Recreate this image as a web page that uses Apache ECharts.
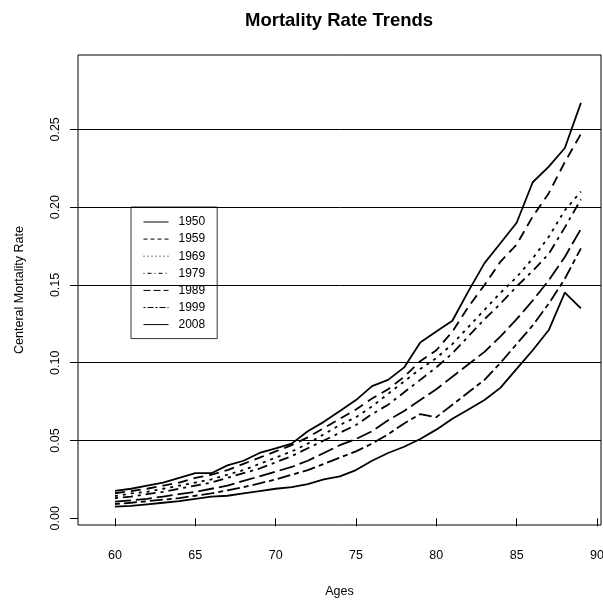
<!DOCTYPE html>
<html><head><meta charset="utf-8">
<script src="https://cdn.jsdelivr.net/npm/echarts@6/dist/echarts.min.js"></script>
<style>html,body{margin:0;padding:0;background:#fff}#c{width:603px;height:600px}</style>
</head><body><div id="c"></div>
<script>
// ---- data ----
const ages = [60,61,62,63,64,65,66,67,68,69,70,71,72,73,74,75,76,77,78,79,80,81,82,83,84,85,86,87,88,89];
const years = ['1950','1959','1969','1979','1989','1999','2008'];
const rate1950 = [0.0177,0.019,0.021,0.023,0.026,0.029,0.029,0.034,0.037,0.042,0.045,0.048,0.056,0.062,0.069,0.076,0.085,0.089,0.097,0.113,0.120,0.127,0.146,0.164,0.177,0.190,0.216,0.226,0.238,0.267];
const rate1959 = [0.0161,0.0175,0.019,0.021,0.023,0.026,0.028,0.031,0.035,0.039,0.043,0.047,0.052,0.058,0.064,0.070,0.077,0.083,0.091,0.101,0.108,0.120,0.136,0.150,0.165,0.176,0.194,0.209,0.229,0.247];
const rate1969 = [0.0143,0.016,0.017,0.019,0.021,0.023,0.025,0.028,0.031,0.035,0.039,0.043,0.048,0.054,0.060,0.065,0.072,0.080,0.088,0.096,0.103,0.112,0.123,0.134,0.145,0.155,0.167,0.181,0.198,0.210];
const rate1979 = [0.0129,0.014,0.0155,0.017,0.019,0.021,0.023,0.026,0.029,0.032,0.036,0.040,0.045,0.050,0.055,0.060,0.067,0.073,0.081,0.089,0.097,0.106,0.117,0.128,0.138,0.149,0.159,0.170,0.187,0.205];
const rate1989 = [0.0107,0.0115,0.0125,0.014,0.0155,0.017,0.019,0.021,0.024,0.027,0.030,0.033,0.037,0.042,0.047,0.051,0.056,0.063,0.069,0.076,0.083,0.091,0.099,0.107,0.117,0.128,0.140,0.153,0.168,0.186];
const rate1999 = [0.0092,0.010,0.011,0.012,0.013,0.0145,0.016,0.018,0.020,0.0225,0.025,0.028,0.031,0.035,0.039,0.043,0.048,0.054,0.061,0.067,0.065,0.073,0.081,0.089,0.100,0.112,0.124,0.138,0.154,0.1735];
const rate2008 = [0.0075,0.008,0.009,0.010,0.011,0.0125,0.014,0.0145,0.016,0.0175,0.019,0.020,0.022,0.025,0.027,0.031,0.037,0.042,0.046,0.051,0.057,0.064,0.070,0.076,0.084,0.096,0.108,0.121,0.145,0.135];
const xTicks = [60,65,70,75,80,85,90];
const yTicks = [0,0.05,0.10,0.15,0.20,0.25];
const gridLevels = [0.05,0.10,0.15,0.20,0.25];
// ---- styles ----
const allRates = [rate1950,rate1959,rate1969,rate1979,rate1989,rate1999,rate2008];
const plotDash = ['solid',[10,6],[3,5],[3,5,10,5],[16,5],[5,4,13,4],'solid'];
const legendDash = ['solid',[4,3],[1,3],[1,3,4,3],[7,3],[2,2,6,2],'solid'];
const FONT = 'Liberation Sans, Arial, sans-serif';

const chart = echarts.init(document.getElementById('c'), null, {renderer:'canvas'});
const series = years.map((y, k) => ({
  name: y, type: 'line', symbol: 'none', smooth: false,
  data: ages.map((a, i) => [a, allRates[k][i]]),
  lineStyle: {color: '#000', width: 1.8, type: plotDash[k], cap: 'butt', join: 'round'},
  itemStyle: {color: '#000'},
  z: 3,
  markLine: k === 0 ? {
    silent: true, symbol: ['none','none'], label: {show:false},
    lineStyle: {color:'#000', width:1, type:'solid'},
    emphasis: {disabled:true},
    animation: false,
    data: gridLevels.map(v => ({yAxis: v}))
  } : undefined
}));

chart.setOption({
  animation: false,
  backgroundColor: '#fff',
  textStyle: {fontFamily: FONT},
  title: {
    text: 'Mortality Rate Trends', left: 240, top: 6,
    textStyle: {fontFamily: FONT, fontWeight: 'bold', fontSize: 18.5, color: '#000'}
  },
  legend: {
    orient: 'vertical', left: 131, top: 207,
    padding: [8, 12, 7, 12],
    itemWidth: 25, itemHeight: 14, itemGap: 3.1,
    borderColor: '#333', borderWidth: 1, borderRadius: 0,
    itemStyle: {opacity: 0},
    textStyle: {fontFamily: FONT, fontSize: 12, color: '#000', padding: [0,0,0,5], lineHeight: 14},
    data: years.map((y, k) => ({name: y, lineStyle: {width: 1, type: legendDash[k], color: '#000'}}))
  },
  grid: {left: 78, top: 55, right: 2, bottom: 75, show: true, borderColor: '#000', borderWidth: 1,
    containLabel: false, outerBoundsMode: 'none'},
  xAxis: {
    type: 'value', min: 57.7, max: 90.25,
    name: 'Ages', nameLocation: 'middle', nameGap: 60,
    nameTextStyle: {fontFamily: FONT, fontSize: 12.5, color: '#000'},
    axisLine: {show: false},
    splitLine: {show: false},
    axisTick: {show: true, customValues: xTicks, length: 8, lineStyle: {color: '#000'}},
    axisLabel: {customValues: xTicks, margin: 24, fontFamily: FONT, fontSize: 12.5, color: '#000'}
  },
  yAxis: {
    type: 'value', min: -0.0043, max: 0.2978,
    name: 'Centeral Mortality Rate', nameLocation: 'middle', nameGap: 52,
    nameTextStyle: {fontFamily: FONT, fontSize: 12.5, color: '#000'},
    axisLine: {show: false},
    splitLine: {show: false},
    axisTick: {show: true, customValues: yTicks, length: 8, lineStyle: {color: '#000'}},
    axisLabel: {customValues: yTicks, rotate: 90, margin: 16, fontFamily: FONT, fontSize: 12.5, color: '#000',
      formatter: v => v.toFixed(2)}
  },
  series: series
});
</script>
</body></html>
